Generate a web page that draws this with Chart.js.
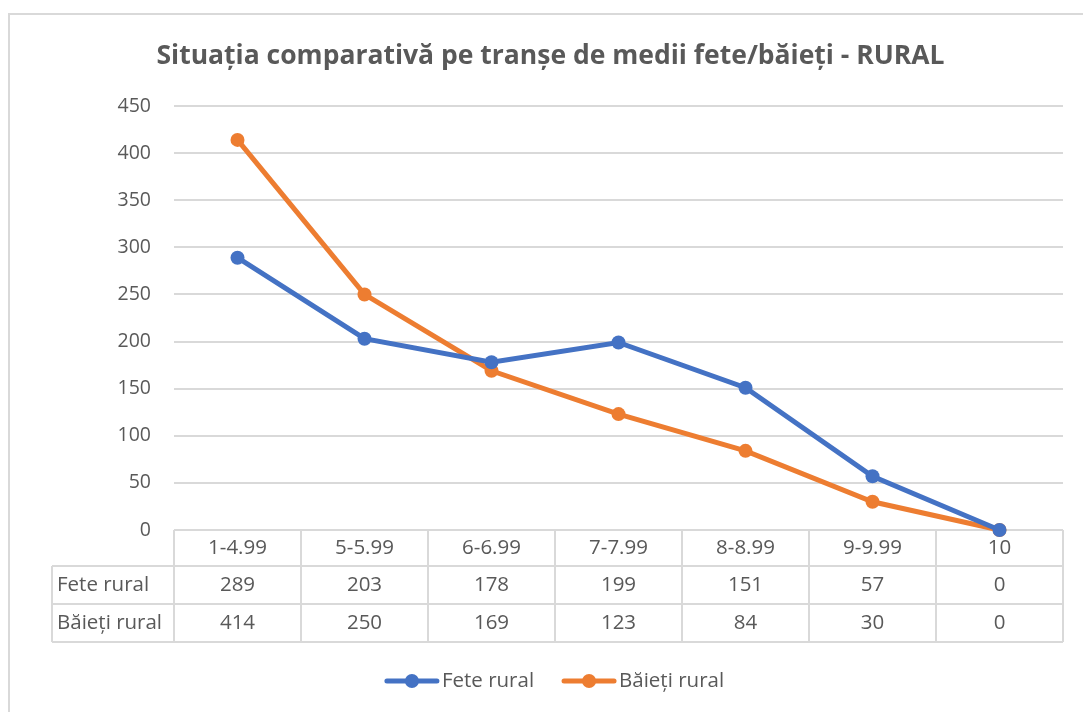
<!DOCTYPE html>
<html>
<head>
<meta charset="utf-8">
<script src="https://cdn.jsdelivr.net/npm/chart.js@4"></script>
<style>
  html, body { margin: 0; padding: 0; background: #ffffff; }
  #wrap { width: 1083px; height: 712px; }
</style>
</head>
<body>
<div id="wrap"><canvas id="c" width="1083" height="712"></canvas></div>
<script>
const titleText = 'Situația comparativă pe tranșe de medii fete/băieți - RURAL';
const categories = ['1-4.99', '5-5.99', '6-6.99', '7-7.99', '8-8.99', '9-9.99', '10'];
const feteRural = [289, 203, 178, 199, 151, 57, 0];
const baietiRural = [414, 250, 169, 123, 84, 30, 0];
const seriesNames = ['Fete rural', 'Băieți rural'];
const yTicks = [0, 50, 100, 150, 200, 250, 300, 350, 400, 450];

const FONT = "'Open Sans', 'Liberation Sans', sans-serif";
const TEXT = '#595959';
const LINE = '#d9d9d9';
const TXT_SIZE = 20.5;

const decorPlugin = {
  id: 'decor',
  beforeDraw(chart) {
    const ctx = chart.ctx;
    ctx.save();
    ctx.fillStyle = '#ffffff';
    ctx.fillRect(0, 0, chart.width, chart.height);
    ctx.strokeStyle = LINE;
    ctx.lineWidth = 2;
    ctx.strokeRect(9, 14, 2000, 2000);
    ctx.restore();
  },
  beforeDatasetsDraw(chart) {
    // data table below the plot, aligned to the category scale
    const ctx = chart.ctx;
    const xs = chart.scales.x;
    const area = chart.chartArea;
    const n = categories.length;
    const half = (xs.getPixelForValue(1) - xs.getPixelForValue(0)) / 2;
    const left = xs.getPixelForValue(0) - half;
    const right = xs.getPixelForValue(n - 1) + half;
    const labelLeft = 52;
    const r0 = area.bottom, r1 = r0 + 36, r2 = r1 + 38, r3 = r2 + 38;
    ctx.save();
    ctx.strokeStyle = LINE;
    ctx.lineWidth = 2;
    ctx.beginPath();
    ctx.moveTo(left, r0); ctx.lineTo(right, r0);
    ctx.moveTo(labelLeft, r1); ctx.lineTo(right, r1);
    ctx.moveTo(labelLeft, r2); ctx.lineTo(right, r2);
    ctx.moveTo(labelLeft, r3); ctx.lineTo(right, r3);
    ctx.moveTo(labelLeft, r1); ctx.lineTo(labelLeft, r3);
    for (let i = 0; i <= n; i++) {
      const x = left + i * half * 2;
      ctx.moveTo(x, r0); ctx.lineTo(x, r3);
    }
    ctx.stroke();

    ctx.fillStyle = TEXT;
    ctx.font = TXT_SIZE + 'px ' + FONT;
    ctx.textBaseline = 'middle';
    ctx.textAlign = 'center';
    const rows = [feteRural, baietiRural];
    for (let i = 0; i < n; i++) {
      const cx = xs.getPixelForValue(i);
      ctx.fillText(categories[i], cx, (r0 + r1) / 2);
      ctx.fillText(String(rows[0][i]), cx, (r1 + r2) / 2);
      ctx.fillText(String(rows[1][i]), cx, (r2 + r3) / 2);
    }
    ctx.textAlign = 'left';
    ctx.fillText(seriesNames[0], labelLeft + 5, (r1 + r2) / 2);
    ctx.fillText(seriesNames[1], labelLeft + 5, (r2 + r3) / 2);
    ctx.restore();
  },
  afterDraw(chart) {
    // legend
    const ctx = chart.ctx;
    ctx.save();
    ctx.font = TXT_SIZE + 'px ' + FONT;
    ctx.textBaseline = 'middle';
    ctx.textAlign = 'left';
    const markW = 56, gapText = 2, gapItem = 27;
    const items = chart.data.datasets.map(d => ({ label: d.label, color: d.borderColor, w: markW + gapText + ctx.measureText(d.label).width }));
    const total = items.reduce((s, it) => s + it.w, 0) + gapItem * (items.length - 1);
    let x = 554 - total / 2;
    const y = 681;
    items.forEach(it => {
      ctx.strokeStyle = it.color;
      ctx.lineWidth = 5;
      ctx.lineCap = 'round';
      ctx.beginPath();
      ctx.moveTo(x + 3, y); ctx.lineTo(x + markW - 3, y);
      ctx.stroke();
      ctx.fillStyle = it.color;
      ctx.beginPath();
      ctx.arc(x + markW / 2, y, 7, 0, Math.PI * 2);
      ctx.fill();
      ctx.fillStyle = TEXT;
      ctx.fillText(it.label, x + markW + gapText, y);
      x += it.w + gapItem;
    });
    ctx.restore();
  }
};

new Chart(document.getElementById('c'), {
  type: 'line',
  data: {
    labels: categories,
    datasets: [
      { label: seriesNames[0], data: feteRural, borderColor: '#4472C4', backgroundColor: '#4472C4',
        pointBackgroundColor: '#4472C4', pointBorderWidth: 0, pointRadius: 7, borderWidth: 5, tension: 0, clip: false },
      { label: seriesNames[1], data: baietiRural, borderColor: '#ED7D31', backgroundColor: '#ED7D31',
        pointBackgroundColor: '#ED7D31', pointBorderWidth: 0, pointRadius: 7, borderWidth: 5, tension: 0, clip: false }
    ]
  },
  options: {
    responsive: false,
    animation: false,
    events: [],
    layout: { padding: { left: 38, right: 20, top: 0, bottom: 0 } },
    plugins: {
      legend: { display: false },
      tooltip: { enabled: false },
      title: {
        display: true,
        text: titleText,
        color: TEXT,
        font: { family: FONT, size: 26.5, weight: 'bold' },
        padding: { top: 41, bottom: 33.2 }
      }
    },
    scales: {
      x: {
        type: 'category',
        offset: true,
        grid: { display: false },
        border: { display: false },
        ticks: { display: false },
        afterFit(s) { s.height = 182; }
      },
      y: {
        min: 0,
        max: 450,
        afterBuildTicks(s) { s.ticks = yTicks.map(v => ({ value: v })); },
        grid: { color: LINE, lineWidth: 2, drawTicks: false },
        border: { display: false },
        ticks: { color: TEXT, font: { family: FONT, size: 19.5 }, padding: 23 },
        afterFit(s) { s.width = 136; }
      }
    }
  },
  plugins: [decorPlugin]
});
</script>
</body>
</html>
